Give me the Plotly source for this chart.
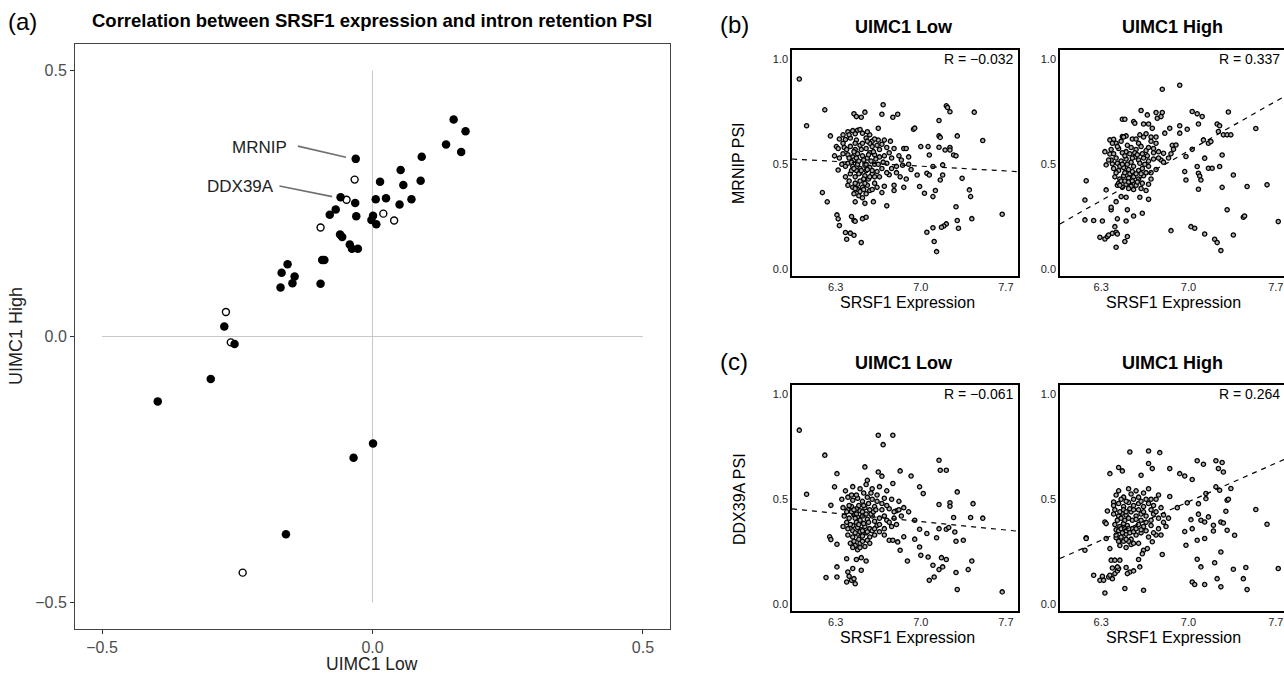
import plotly.graph_objects as go

W, H = 1284, 674
FONT = "Liberation Sans, Arial, Helvetica, sans-serif"

# ---------------- Panel (a) data ----------------
a_filled_x = [0.150, 0.172, 0.136, 0.164, 0.091, -0.031, 0.052, 0.014, 0.057, 0.089, -0.059, -0.032, 0.006,
              0.025, 0.050, 0.072, -0.068, -0.079, -0.030, 0.001, -0.002, 0.007, -0.060, -0.056, -0.042,
              -0.038, -0.027, -0.093, -0.089, -0.157, -0.168, -0.144, -0.148, -0.170, -0.096, -0.274,
              -0.255, -0.299, -0.397, 0.001, -0.035, -0.160]
a_filled_y = [0.408, 0.386, 0.361, 0.347, 0.338, 0.334, 0.313, 0.291, 0.285, 0.293, 0.262, 0.251, 0.258,
              0.260, 0.248, 0.258, 0.239, 0.229, 0.226, 0.227, 0.219, 0.211, 0.192, 0.187, 0.173,
              0.165, 0.165, 0.144, 0.144, 0.136, 0.120, 0.113, 0.100, 0.092, 0.099, 0.019,
              -0.014, -0.080, -0.122, -0.201, -0.228, -0.372]
a_open_x = [-0.033, -0.048, 0.020, 0.040, -0.096, -0.271, -0.262, -0.240]
a_open_y = [0.295, 0.257, 0.231, 0.218, 0.205, 0.046, -0.011, -0.444]
a_ticks = [-0.5, 0.0, 0.5]
a_ticktext = ["\u22120.5", "0.0", "0.5"]
a_labels = ["MRNIP", "DDX39A"]
a_label_pos = [(-0.155, 0.356), (-0.178, 0.282)]
a_label_seg = [((-0.138, 0.358), (-0.049, 0.337)), ((-0.172, 0.283), (-0.0745, 0.263))]

# ---------------- Panels (b)/(c) data ----------------
b_low = [
    (6.00, 0.906), (6.06, 0.683), (6.21, 0.759), (6.256, 0.635), (6.305, 0.584), (6.29, 0.54), (6.32, 0.473),
    (6.19, 0.365), (6.23, 0.321), (6.31, 0.259), (6.32, 0.24), (6.33, 0.208), (6.38, 0.175), (6.42, 0.172),
    (6.45, 0.162), (6.39, 0.143), (6.45, 0.232), (6.46, 0.229), (6.52, 0.241), (6.55, 0.248), (6.43, 0.251),
    (6.51, 0.127), (6.46, 0.321), (6.54, 0.314), (6.61, 0.322), (6.68, 0.365), (6.78, 0.375), (6.72, 0.302),
    (6.45, 0.74), (6.51, 0.724), (6.47, 0.727), (6.54, 0.748), (6.69, 0.783), (6.68, 0.738), (6.77, 0.724),
    (6.81, 0.738), (6.94, 0.667), (6.95, 0.672), (6.65, 0.671),
    (7.15, 0.708), (7.21, 0.778), (7.22, 0.77), (7.24, 0.75), (7.44, 0.748), (7.51, 0.613), (7.30, 0.635),
    (7.15, 0.635), (7.16, 0.628), (7.15, 0.581), (7.24, 0.58), (7.24, 0.568), (7.2, 0.568), (7.27, 0.544),
    (7.29, 0.54), (7.07, 0.544), (7.06, 0.584), (7.0, 0.584), (7.1, 0.489), (7.18, 0.497), (7.18, 0.449),
    (7.16, 0.425), (7.05, 0.457), (7.07, 0.449), (6.97, 0.449), (6.99, 0.394), (7.12, 0.375), (7.1, 0.346),
    (7.03, 0.362), (7.34, 0.433), (7.4, 0.378), (7.41, 0.346), (7.29, 0.298), (7.3, 0.232), (7.31, 0.195),
    (7.42, 0.241), (7.21, 0.216), (7.19, 0.206), (7.17, 0.2), (7.1, 0.198), (7.05, 0.176), (7.11, 0.132),
    (7.13, 0.084), (7.67, 0.262),
    (6.36, 0.64), (6.4, 0.655), (6.44, 0.66), (6.48, 0.662), (6.52, 0.648), (6.58, 0.64), (6.5, 0.665),
    (6.33, 0.62), (6.38, 0.618), (6.42, 0.625), (6.47, 0.615), (6.55, 0.625), (6.6, 0.61), (6.65, 0.615),
    (6.7, 0.615), (6.62, 0.62), (6.75, 0.61),
    (6.32, 0.575), (6.37, 0.58), (6.42, 0.585), (6.46, 0.57), (6.5, 0.59), (6.55, 0.575), (6.6, 0.585),
    (6.66, 0.57), (6.72, 0.58), (6.78, 0.575), (6.86, 0.575), (6.88, 0.575), (6.58, 0.6),
    (6.33, 0.53), (6.36, 0.55), (6.4, 0.545), (6.44, 0.535), (6.48, 0.55), (6.52, 0.54), (6.56, 0.53),
    (6.62, 0.545), (6.66, 0.535), (6.7, 0.54), (6.76, 0.53), (6.82, 0.54), (6.9, 0.535), (6.45, 0.52),
    (6.58, 0.555),
    (6.35, 0.5), (6.4, 0.505), (6.44, 0.49), (6.48, 0.5), (6.5, 0.48), (6.54, 0.495), (6.58, 0.485),
    (6.62, 0.5), (6.68, 0.48), (6.72, 0.505), (6.8, 0.49), (6.85, 0.495), (6.92, 0.475), (6.47, 0.47),
    (6.55, 0.47),
    (6.38, 0.44), (6.42, 0.455), (6.46, 0.44), (6.5, 0.46), (6.54, 0.445), (6.6, 0.455), (6.66, 0.44),
    (6.74, 0.45), (6.83, 0.44), (6.88, 0.43), (6.57, 0.43),
    (6.4, 0.4), (6.44, 0.39), (6.48, 0.405), (6.52, 0.39), (6.56, 0.4), (6.62, 0.41), (6.7, 0.395),
    (6.78, 0.4), (6.86, 0.39),
    (6.45, 0.36), (6.49, 0.35), (6.52, 0.34), (6.55, 0.36), (6.58, 0.375), (6.48, 0.38),
    (6.39, 0.57), (6.41, 0.53), (6.43, 0.51), (6.45, 0.56), (6.47, 0.53), (6.49, 0.515), (6.51, 0.57),
    (6.53, 0.52), (6.55, 0.5), (6.57, 0.545), (6.59, 0.515), (6.61, 0.56), (6.63, 0.525), (6.65, 0.5),
    (6.43, 0.47), (6.45, 0.48), (6.49, 0.455), (6.51, 0.47), (6.53, 0.43), (6.56, 0.475), (6.6, 0.47),
    (6.64, 0.465), (6.41, 0.42), (6.46, 0.41), (6.5, 0.42), (6.54, 0.41), (6.58, 0.44), (6.62, 0.44),
    (6.46, 0.6), (6.52, 0.6), (6.56, 0.61), (6.64, 0.59), (6.68, 0.595), (6.74, 0.555), (6.69, 0.51),
    (6.76, 0.48), (6.72, 0.46), (6.8, 0.46), (6.84, 0.52), (6.9, 0.5), (6.5, 0.37), (6.53, 0.38),
    (6.46, 0.385), (6.6, 0.38), (6.64, 0.39), (6.38, 0.49), (6.36, 0.6), (6.41, 0.64), (6.46, 0.645),
    (6.56, 0.655),
]
b_high = [
    (6.18, 0.421), (6.17, 0.33), (6.17, 0.235), (6.24, 0.232), (6.31, 0.23), (6.29, 0.152), (6.33, 0.144),
    (6.35, 0.156), (6.36, 0.163), (6.39, 0.171), (6.42, 0.176), (6.43, 0.168), (6.42, 0.105), (6.49, 0.132),
    (6.51, 0.156), (6.41, 0.203), (6.34, 0.378), (6.38, 0.283), (6.38, 0.295), (6.42, 0.322), (6.46, 0.346),
    (6.43, 0.24), (6.5, 0.23), (6.51, 0.283), (6.56, 0.254), (6.63, 0.267), (6.5, 0.343), (6.61, 0.343),
    (6.68, 0.333), (6.33, 0.56), (6.37, 0.549), (6.34, 0.497), (6.39, 0.502), (6.37, 0.616), (6.4, 0.619),
    (6.47, 0.632), (6.5, 0.635), (6.47, 0.714), (6.49, 0.714), (6.56, 0.703), (6.57, 0.695), (6.62, 0.756),
    (6.67, 0.735), (6.74, 0.746), (6.79, 0.746), (6.75, 0.719), (6.78, 0.727), (6.64, 0.692), (6.68, 0.692),
    (6.71, 0.671), (6.79, 0.857), (6.93, 0.876), (6.81, 0.648), (6.85, 0.671), (6.93, 0.683), (6.93, 0.648),
    (6.99, 0.667), (7.03, 0.751), (7.07, 0.74), (7.11, 0.727), (7.08, 0.692), (7.12, 0.616), (7.16, 0.6),
    (7.18, 0.608), (7.23, 0.692), (7.25, 0.683), (7.24, 0.656), (7.28, 0.64), (7.31, 0.64), (7.34, 0.64),
    (7.32, 0.749), (7.54, 0.67), (7.03, 0.571), (6.98, 0.537), (6.87, 0.59), (6.9, 0.592), (6.88, 0.571),
    (6.8, 0.552), (6.97, 0.465), (6.98, 0.425), (7.07, 0.489), (7.08, 0.457), (7.09, 0.444), (7.1, 0.425),
    (7.08, 0.381), (7.13, 0.529), (7.16, 0.481), (7.19, 0.481), (7.25, 0.489), (7.27, 0.544), (7.27, 0.39),
    (7.36, 0.449), (7.47, 0.394), (7.63, 0.402), (7.31, 0.283), (7.44, 0.248), (7.45, 0.254), (7.72, 0.227),
    (7.36, 0.163), (7.21, 0.143), (7.23, 0.127), (7.26, 0.089), (7.13, 0.168), (7.02, 0.203), (7.05, 0.195),
    (6.86, 0.184),
    (6.42, 0.6), (6.46, 0.61), (6.55, 0.62), (6.6, 0.6), (6.64, 0.63), (6.7, 0.61), (6.74, 0.6),
    (6.38, 0.57), (6.44, 0.575), (6.5, 0.56), (6.54, 0.58), (6.58, 0.57), (6.62, 0.585), (6.66, 0.565),
    (6.72, 0.575), (6.76, 0.56),
    (6.38, 0.52), (6.42, 0.53), (6.46, 0.515), (6.5, 0.525), (6.54, 0.51), (6.57, 0.535), (6.6, 0.52),
    (6.64, 0.53), (6.68, 0.515), (6.72, 0.525), (6.78, 0.52),
    (6.4, 0.48), (6.44, 0.47), (6.48, 0.485), (6.52, 0.475), (6.56, 0.49), (6.6, 0.47), (6.63, 0.48),
    (6.68, 0.49), (6.74, 0.475),
    (6.41, 0.44), (6.45, 0.43), (6.48, 0.445), (6.52, 0.435), (6.56, 0.44), (6.6, 0.43), (6.64, 0.445),
    (6.7, 0.43),
    (6.43, 0.4), (6.47, 0.39), (6.5, 0.405), (6.54, 0.395), (6.58, 0.4), (6.62, 0.385), (6.66, 0.375),
    (6.43, 0.585), (6.47, 0.555), (6.49, 0.54), (6.51, 0.59), (6.53, 0.55), (6.55, 0.53), (6.57, 0.555),
    (6.59, 0.545), (6.61, 0.505), (6.63, 0.55), (6.65, 0.5), (6.67, 0.54), (6.43, 0.505), (6.45, 0.49),
    (6.47, 0.5), (6.49, 0.46), (6.51, 0.5), (6.53, 0.455), (6.55, 0.465), (6.58, 0.455), (6.62, 0.455),
    (6.66, 0.46), (6.7, 0.46), (6.42, 0.46), (6.44, 0.41), (6.46, 0.42), (6.49, 0.42), (6.52, 0.415),
    (6.55, 0.42), (6.59, 0.415), (6.63, 0.41), (6.68, 0.405), (6.45, 0.4), (6.52, 0.385), (6.56, 0.38),
    (6.4, 0.55), (6.36, 0.52), (6.39, 0.6), (6.48, 0.63), (6.58, 0.62), (6.68, 0.58), (6.72, 0.555),
    (6.76, 0.53), (6.8, 0.51), (6.84, 0.53), (6.86, 0.55), (6.61, 0.64), (6.66, 0.645), (6.7, 0.63),
    (6.74, 0.63),
]
c_low = [
    (6.0, 0.829), (6.06, 0.524), (6.21, 0.71), (6.31, 0.622), (6.29, 0.559), (6.26, 0.471), (6.25, 0.321),
    (6.26, 0.308), (6.22, 0.127), (6.31, 0.178), (6.31, 0.13), (6.31, 0.286), (6.39, 0.217), (6.44, 0.17),
    (6.4, 0.154), (6.41, 0.133), (6.39, 0.106), (6.43, 0.114), (6.46, 0.098), (6.45, 0.122), (6.51, 0.162),
    (6.47, 0.213), (6.51, 0.222), (6.55, 0.206), (6.65, 0.805), (6.77, 0.805), (6.69, 0.76), (6.54, 0.654),
    (6.65, 0.63), (6.68, 0.61), (6.77, 0.575), (6.83, 0.635), (6.92, 0.611), (6.99, 0.559), (7.02, 0.527),
    (7.15, 0.686), (7.16, 0.638), (7.21, 0.638), (7.3, 0.535), (7.24, 0.483), (7.24, 0.467), (7.15, 0.475),
    (7.43, 0.479), (7.41, 0.413), (7.51, 0.41), (7.27, 0.413), (7.15, 0.36), (7.21, 0.357), (7.23, 0.365),
    (7.28, 0.344), (7.29, 0.3), (7.35, 0.305), (7.17, 0.222), (7.21, 0.213), (7.18, 0.178), (7.1, 0.186),
    (7.15, 0.165), (7.11, 0.13), (7.07, 0.114), (7.29, 0.151), (7.3, 0.07), (7.39, 0.165), (7.42, 0.206),
    (7.06, 0.225), (6.99, 0.273), (7.0, 0.233), (6.89, 0.206), (6.83, 0.257), (6.86, 0.321), (6.95, 0.31),
    (7.05, 0.337), (7.13, 0.317), (6.99, 0.357), (6.95, 0.4), (6.74, 0.305), (6.77, 0.305), (6.81, 0.297),
    (7.67, 0.059),
    (6.38, 0.54), (6.44, 0.56), (6.5, 0.55), (6.55, 0.57), (6.6, 0.55), (6.66, 0.56), (6.72, 0.54),
    (6.56, 0.59),
    (6.35, 0.5), (6.4, 0.51), (6.44, 0.495), (6.48, 0.505), (6.52, 0.49), (6.56, 0.51), (6.6, 0.5),
    (6.64, 0.49), (6.7, 0.505), (6.76, 0.5), (6.82, 0.49),
    (6.36, 0.46), (6.4, 0.45), (6.43, 0.465), (6.47, 0.455), (6.5, 0.445), (6.54, 0.46), (6.58, 0.45),
    (6.62, 0.465), (6.68, 0.45), (6.74, 0.455), (6.8, 0.445), (6.86, 0.46), (6.9, 0.44),
    (6.37, 0.42), (6.41, 0.41), (6.45, 0.425), (6.48, 0.415), (6.52, 0.42), (6.56, 0.405), (6.6, 0.42),
    (6.66, 0.41), (6.72, 0.4), (6.78, 0.41), (6.84, 0.42),
    (6.36, 0.37), (6.4, 0.36), (6.44, 0.375), (6.48, 0.365), (6.51, 0.355), (6.54, 0.37), (6.58, 0.36),
    (6.64, 0.375), (6.7, 0.36), (6.76, 0.37),
    (6.4, 0.33), (6.44, 0.32), (6.48, 0.335), (6.52, 0.325), (6.55, 0.34), (6.58, 0.32), (6.62, 0.33),
    (6.7, 0.33),
    (6.42, 0.29), (6.46, 0.28), (6.5, 0.29), (6.54, 0.275), (6.48, 0.26),
    (6.39, 0.44), (6.41, 0.47), (6.43, 0.44), (6.45, 0.45), (6.46, 0.41), (6.47, 0.43), (6.49, 0.47),
    (6.5, 0.4), (6.52, 0.44), (6.53, 0.47), (6.55, 0.43), (6.57, 0.48), (6.59, 0.43), (6.61, 0.44),
    (6.63, 0.45), (6.39, 0.39), (6.42, 0.38), (6.44, 0.35), (6.46, 0.34), (6.47, 0.39), (6.49, 0.38),
    (6.5, 0.345), (6.52, 0.35), (6.53, 0.385), (6.56, 0.345), (6.57, 0.39), (6.6, 0.35), (6.62, 0.395),
    (6.66, 0.345), (6.45, 0.3), (6.49, 0.31), (6.52, 0.3), (6.56, 0.305), (6.5, 0.27), (6.44, 0.27),
    (6.58, 0.29), (6.43, 0.52), (6.47, 0.52), (6.53, 0.53), (6.59, 0.53), (6.64, 0.52), (6.68, 0.48),
    (6.72, 0.47), (6.78, 0.44), (6.82, 0.45), (6.7, 0.42), (6.74, 0.39), (6.8, 0.38), (6.66, 0.38),
    (6.62, 0.36),
]
c_high = [
    (6.18, 0.317), (6.18, 0.313), (6.17, 0.257), (6.35, 0.444), (6.4, 0.487), (6.37, 0.622), (6.44, 0.651),
    (6.47, 0.635), (6.53, 0.725), (6.68, 0.73), (6.77, 0.722), (6.68, 0.67), (6.71, 0.646), (6.62, 0.614),
    (6.85, 0.646), (6.93, 0.622), (6.97, 0.611), (7.03, 0.594), (7.07, 0.683), (7.12, 0.667), (7.22, 0.683),
    (7.27, 0.675), (7.24, 0.646), (7.28, 0.63), (7.22, 0.559), (7.25, 0.543), (7.34, 0.551), (7.31, 0.495),
    (7.32, 0.5), (7.3, 0.443), (7.14, 0.503), (7.14, 0.527), (7.08, 0.479), (6.85, 0.513), (6.91, 0.46),
    (6.99, 0.483), (7.02, 0.403), (7.08, 0.429), (7.1, 0.4), (7.13, 0.392), (7.16, 0.416), (7.2, 0.376),
    (7.2, 0.349), (7.26, 0.392), (7.28, 0.387), (7.31, 0.352), (7.37, 0.329), (7.54, 0.451), (7.63, 0.381),
    (6.97, 0.346), (7.03, 0.36), (7.07, 0.305), (7.13, 0.313), (6.98, 0.281), (7.26, 0.249), (7.07, 0.214),
    (7.1, 0.178), (7.21, 0.198), (7.36, 0.167), (7.46, 0.175), (7.44, 0.122), (7.47, 0.07), (7.23, 0.122),
    (7.26, 0.083), (7.13, 0.094), (7.03, 0.106), (7.05, 0.094), (7.72, 0.17), (6.79, 0.237), (6.71, 0.298),
    (6.64, 0.257), (6.67, 0.265), (6.6, 0.213), (6.63, 0.241), (6.61, 0.178), (6.53, 0.154), (6.49, 0.075),
    (6.64, 0.067), (6.33, 0.054), (6.24, 0.138), (6.29, 0.114), (6.31, 0.133), (6.32, 0.114), (6.36, 0.13),
    (6.37, 0.138), (6.39, 0.122), (6.41, 0.146), (6.43, 0.159), (6.44, 0.17), (6.5, 0.175), (6.51, 0.146),
    (6.56, 0.159), (6.38, 0.21), (6.41, 0.21), (6.45, 0.21), (6.39, 0.173), (6.43, 0.178), (6.42, 0.317),
    (6.34, 0.313), (6.37, 0.265), (6.33, 0.392), (6.34, 0.384),
    (6.42, 0.52), (6.48, 0.51), (6.54, 0.525), (6.6, 0.51), (6.64, 0.53), (6.7, 0.5), (6.76, 0.52),
    (6.4, 0.47), (6.44, 0.48), (6.48, 0.465), (6.52, 0.485), (6.56, 0.47), (6.6, 0.48), (6.64, 0.465),
    (6.68, 0.48), (6.72, 0.47), (6.78, 0.46),
    (6.4, 0.43), (6.44, 0.42), (6.47, 0.435), (6.5, 0.425), (6.54, 0.44), (6.58, 0.42), (6.62, 0.43),
    (6.66, 0.42), (6.72, 0.43), (6.8, 0.425), (6.84, 0.41),
    (6.41, 0.38), (6.45, 0.37), (6.48, 0.385), (6.51, 0.375), (6.55, 0.36), (6.6, 0.38), (6.64, 0.37),
    (6.7, 0.375), (6.76, 0.36), (6.82, 0.37),
    (6.42, 0.33), (6.46, 0.32), (6.5, 0.335), (6.54, 0.31), (6.58, 0.33), (6.62, 0.34), (6.68, 0.32),
    (6.74, 0.33),
    (6.45, 0.28), (6.5, 0.27), (6.54, 0.285), (6.6, 0.29),
    (6.41, 0.45), (6.43, 0.4), (6.45, 0.44), (6.46, 0.41), (6.48, 0.45), (6.49, 0.4), (6.5, 0.44),
    (6.52, 0.41), (6.53, 0.455), (6.55, 0.4), (6.56, 0.45), (6.58, 0.405), (6.6, 0.45), (6.62, 0.4),
    (6.64, 0.44), (6.66, 0.39), (6.42, 0.355), (6.44, 0.35), (6.46, 0.36), (6.47, 0.34), (6.49, 0.36),
    (6.5, 0.35), (6.52, 0.36), (6.53, 0.34), (6.56, 0.345), (6.58, 0.36), (6.62, 0.355), (6.66, 0.35),
    (6.44, 0.3), (6.48, 0.3), (6.52, 0.3), (6.56, 0.29), (6.5, 0.31), (6.46, 0.5), (6.5, 0.49),
    (6.56, 0.5), (6.62, 0.49), (6.66, 0.5), (6.7, 0.45), (6.74, 0.44), (6.76, 0.41), (6.8, 0.39),
    (6.72, 0.34), (6.78, 0.33), (6.7, 0.4), (6.58, 0.54), (6.52, 0.55), (6.44, 0.54), (6.68, 0.55),
    (6.74, 0.5),
]
# fitted dashed lines: (x0, y0, x1, y1)
fit_lines = {
    "b_low": (5.94, 0.525, 7.80, 0.465),
    "b_high": (5.97, 0.216, 7.766, 0.822),
    "c_low": (5.94, 0.454, 7.80, 0.348),
    "c_high": (5.97, 0.218, 7.766, 0.689),
}
r_values = {"b_low": "R = \u22120.032", "b_high": "R = 0.337",
            "c_low": "R = \u22120.061", "c_high": "R = 0.264"}
small_xticks = [6.3, 7.0, 7.7]
small_yticks = [0.0, 0.5, 1.0]


def px(x):
    return x / W


def py(y):
    return 1 - y / H


fig = go.Figure()

# ---------- panel (a) ----------
fig.add_trace(go.Scatter(x=[0, 0], y=[-0.5, 0.5], mode="lines", line=dict(color="#c8c8c8", width=1),
                         xaxis="x", yaxis="y", hoverinfo="skip"))
fig.add_trace(go.Scatter(x=[-0.5, 0.5], y=[0, 0], mode="lines", line=dict(color="#c8c8c8", width=1),
                         xaxis="x", yaxis="y", hoverinfo="skip"))
for (p0, p1) in a_label_seg:
    fig.add_trace(go.Scatter(x=[p0[0], p1[0]], y=[p0[1], p1[1]], mode="lines",
                             line=dict(color="#707070", width=1.6), xaxis="x", yaxis="y"))
fig.add_trace(go.Scatter(x=a_open_x, y=a_open_y, mode="markers", xaxis="x", yaxis="y",
                         marker=dict(size=7, color="white", line=dict(color="black", width=1.4))))
fig.add_trace(go.Scatter(x=a_filled_x, y=a_filled_y, mode="markers", xaxis="x", yaxis="y",
                         marker=dict(size=8.5, color="black", line=dict(width=0))))

# ---------- small panels ----------
panels = [("b_low", b_low, "x2", "y2"), ("b_high", b_high, "x3", "y3"),
          ("c_low", c_low, "x4", "y4"), ("c_high", c_high, "x5", "y5")]
for key, pts, xa, ya in panels:
    fig.add_trace(go.Scatter(x=[p[0] for p in pts], y=[p[1] for p in pts], mode="markers",
                             xaxis=xa, yaxis=ya,
                             marker=dict(size=4.3, color="#b0b0b0", line=dict(color="black", width=1.3))))
    x0, y0, x1, y1 = fit_lines[key]
    fig.add_trace(go.Scatter(x=[x0, x1], y=[y0, y1], mode="lines", xaxis=xa, yaxis=ya,
                             line=dict(color="black", width=1.2, dash="5px,5px")))

fig.update_layout(width=W, height=H, margin=dict(l=0, r=0, t=0, b=0), showlegend=False,
                  paper_bgcolor="white", plot_bgcolor="white", font=dict(family=FONT, color="black"))

big_ax = dict(range=[-0.55, 0.55], tickvals=a_ticks, ticktext=a_ticktext, ticks="outside", ticklen=4,
              tickcolor="#333333", tickwidth=1, tickfont=dict(size=16, color="#4d4d4d"),
              showline=True, mirror=True, linecolor="#444444", linewidth=1, showgrid=False, zeroline=False)
fig.update_layout(xaxis=dict(domain=[px(75), px(670)], anchor="y", **big_ax),
                  yaxis=dict(domain=[py(629), py(44)], anchor="x", **big_ax))

small_x = dict(tickvals=small_xticks, ticktext=["6.3", "7.0", "7.7"], ticks="", showgrid=False,
               zeroline=False, showline=True, linecolor="black", linewidth=1.6,
               tickfont=dict(size=11, color="#222222"))
small_y = dict(range=[-0.032, 1.044], tickvals=small_yticks, ticktext=["0.0", "0.5", "1.0"], ticks="",
               showgrid=False, zeroline=False, showline=True, linecolor="black", linewidth=1.6,
               tickfont=dict(size=11, color="#222222"))
L_dom = [px(792), px(1018)]
R_dom = [px(1060), 1.0]
B_dom = [py(276), py(50)]
C_dom = [py(611), py(385)]
fig.update_layout(
    xaxis2=dict(domain=L_dom, anchor="y2", range=[5.94, 7.80], mirror=True, **small_x),
    yaxis2=dict(domain=B_dom, anchor="x2", mirror=True, **small_y),
    xaxis3=dict(domain=R_dom, anchor="y3", range=[5.97, 7.766], mirror=True, **small_x),
    yaxis3=dict(domain=B_dom, anchor="x3", mirror=False, **small_y),
    xaxis4=dict(domain=L_dom, anchor="y4", range=[5.94, 7.80], mirror=True, **small_x),
    yaxis4=dict(domain=C_dom, anchor="x4", mirror=True, **small_y),
    xaxis5=dict(domain=R_dom, anchor="y5", range=[5.97, 7.766], mirror=True, **small_x),
    yaxis5=dict(domain=C_dom, anchor="x5", mirror=False, **small_y),
)

ann = []


def text(x, y, s, size, bold=False, xanchor="center", angle=0, color="black"):
    ann.append(dict(x=px(x), y=py(y), xref="paper", yref="paper", text=f"<b>{s}</b>" if bold else s,
                    showarrow=False, xanchor=xanchor, yanchor="middle", textangle=angle,
                    font=dict(size=size, color=color, family=FONT)))


text(23, 21, "(a)", 24)
text(372, 20, "Correlation between SRSF1 expression and intron retention PSI", 18.5, bold=True)
text(372, 664, "UIMC1 Low", 17.5, color="#222222")
text(16, 336, "UIMC1 High", 18, angle=-90, color="#222222")
for lab, (lx, ly) in zip(a_labels, a_label_pos):
    ann.append(dict(x=lx, y=ly, xref="x", yref="y", text=lab, showarrow=False, xanchor="right",
                    yanchor="middle", font=dict(size=17, color="#222222", family=FONT)))

text(734, 24, "(b)", 24)
text(734, 361, "(c)", 24)
for ytitle, (ttl_y, xt_y, ycen) in zip(["MRNIP PSI", "DDX39A PSI"], [(27, 302, 163), (363, 637, 499)]):
    text(904, ttl_y, "UIMC1 Low", 18, bold=True)
    text(1172, ttl_y, "UIMC1 High", 18, bold=True)
    text(907, xt_y, "SRSF1 Expression", 16)
    text(1173, xt_y, "SRSF1 Expression", 16)
    text(739, ycen, ytitle, 16, angle=-90)

text(1015, 59, r_values["b_low"], 14, xanchor="right")
text(1282, 59, r_values["b_high"], 14, xanchor="right")
text(1015, 394, r_values["c_low"], 14, xanchor="right")
text(1282, 394, r_values["c_high"], 14, xanchor="right")

fig.update_layout(annotations=ann)
fig.write_html("out.html", config={"displayModeBar": False},
               post_script="document.body.style.margin='0px';")
